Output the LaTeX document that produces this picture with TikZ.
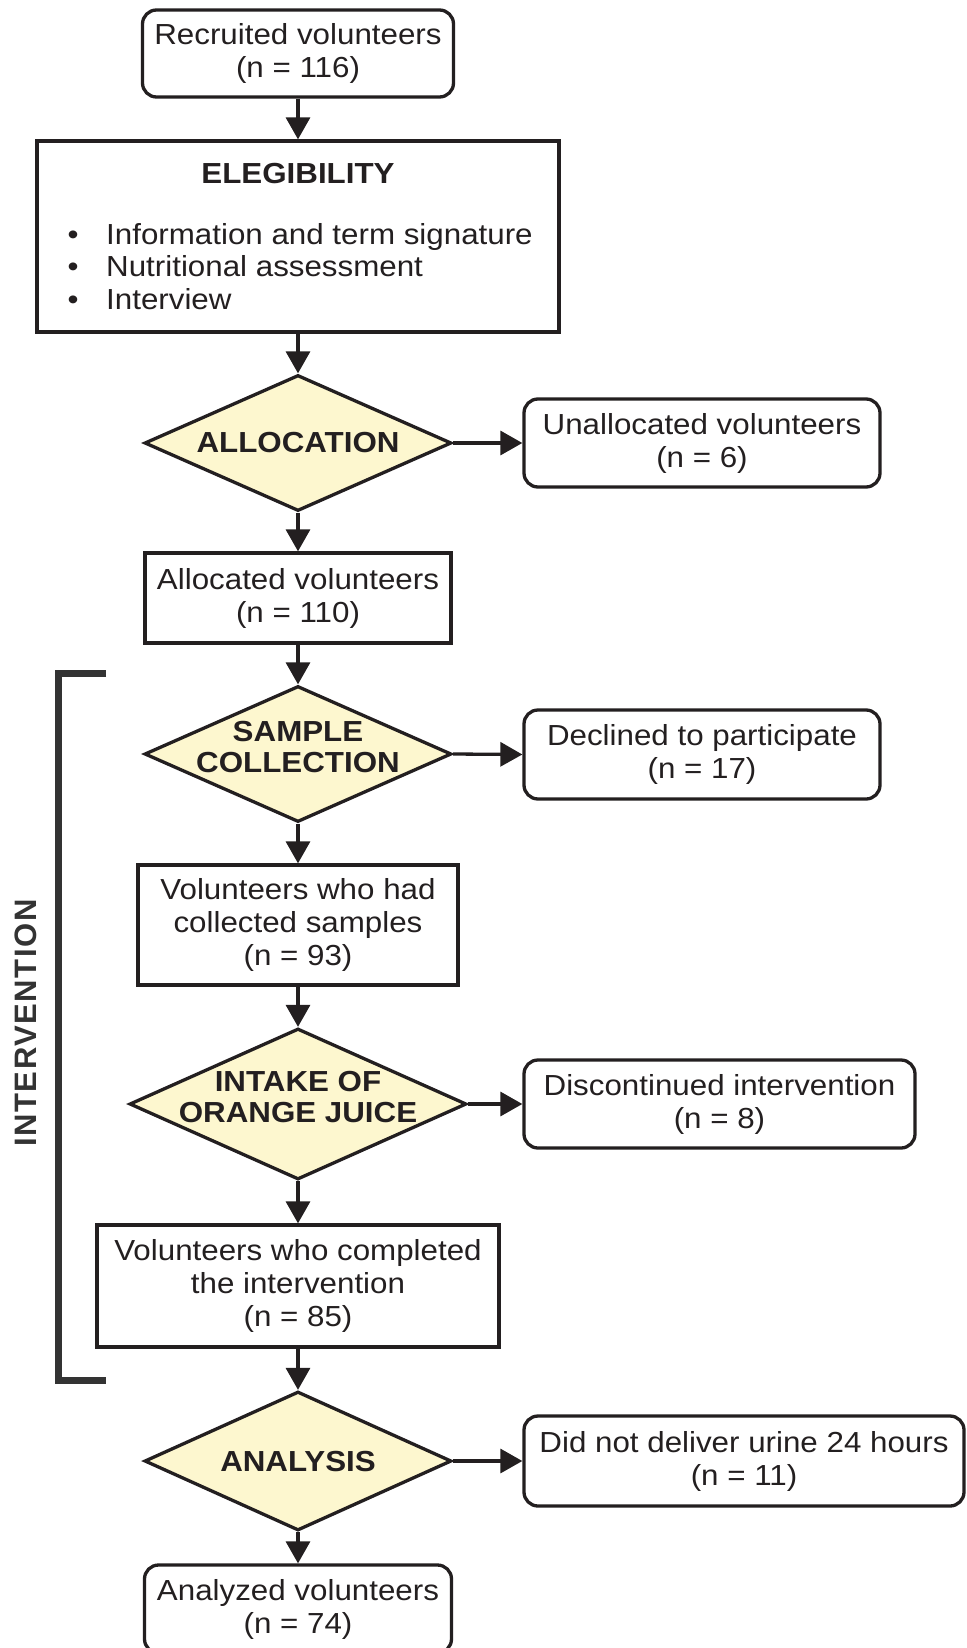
\documentclass[tikz,border=0pt]{standalone}
\usepackage{fontspec}
\setmainfont{Liberation Sans}[FakeStretch=1.08]
\newfontfamily\intfont{Liberation Sans}[LetterSpace=5.0]
\usetikzlibrary{shapes.geometric,arrows.meta}
\definecolor{linec}{HTML}{231F20}
\definecolor{textc}{HTML}{231F20}
\definecolor{diafill}{HTML}{FDF7CF}
\definecolor{brackc}{HTML}{333333}
\tikzset{
  base/.style={draw=linec, line width=3.3pt, align=center, inner sep=0pt,
    text=textc, font=\fontsize{29}{33}\selectfont},
  rbox/.style={base, rounded corners=14pt},
  sbox/.style={base},
  dia/.style={draw=linec, line width=3.3pt, diamond, fill=diafill, inner sep=0pt},
  lab/.style={font=\bfseries\fontsize{29}{31}\selectfont, align=center, text=textc, inner sep=0pt},
  arr/.style={draw=linec, line width=3.3pt, -{Triangle[length=22pt,width=24pt]}},
  bracket/.style={draw=brackc, line width=7pt},
  bul/.style={font=\fontsize{29}{33}\selectfont, text=textc, inner sep=0pt},
}
\begin{document}
\begin{tikzpicture}[x=1pt,y=-1pt]
\useasboundingbox (0,0) rectangle (966,1648);
\clip (0,0) rectangle (966,1648);
\fill[white] (0,0) rectangle (966,1648);

% main column
\node[rbox, minimum width=311pt, minimum height=87pt] (rec) at (298,53.5) {Recruited volunteers\\(n = 116)};
\node[sbox, minimum width=522pt, minimum height=191pt] (elig) at (298,236.5) {};
\node[lab, anchor=base] (eligt) at (298,183) {ELEGIBILITY};
\node[bul, anchor=base] (b1) at (73,244) {•};
\node[bul, anchor=base] (b2) at (73,276.5) {•};
\node[bul, anchor=base] (b3) at (73,309) {•};
\node[bul, anchor=base west] (t1) at (106,244) {Information and term signature};
\node[bul, anchor=base west] (t2) at (106,276.5) {Nutritional assessment};
\node[bul, anchor=base west] (t3) at (106,309) {Interview};

\node[dia, minimum width=307pt, minimum height=136pt, label={[lab]center:ALLOCATION}] (alloc) at (298,443) {};
\node[sbox, minimum width=306pt, minimum height=90pt] (allocated) at (298,598) {Allocated volunteers\\(n = 110)};
\node[dia, minimum width=307pt, minimum height=136pt, label={[lab, yshift=7pt]center:SAMPLE\\COLLECTION}] (sample) at (298,754) {};
\node[sbox, minimum width=320pt, minimum height=120pt] (had) at (298,925) {Volunteers who had\\collected samples\\(n = 93)};
\node[dia, minimum width=337pt, minimum height=151pt, label={[lab, yshift=7pt]center:INTAKE OF\\ORANGE JUICE}] (intake) at (298,1104) {};
\node[sbox, minimum width=402pt, minimum height=122pt] (completed) at (298,1286) {Volunteers who completed\\the intervention\\(n = 85)};
\node[dia, minimum width=307pt, minimum height=139pt, label={[lab]center:ANALYSIS}] (analysis) at (298,1461) {};
\node[rbox, minimum width=307pt, minimum height=88pt] (analyzed) at (298,1609) {Analyzed volunteers\\(n = 74)};

% side boxes
\node[rbox, minimum width=356pt, minimum height=88pt] (unalloc) at (702,443) {Unallocated volunteers\\(n = 6)};
\node[rbox, minimum width=356pt, minimum height=89pt] (declined) at (702,754.5) {Declined to participate\\(n = 17)};
\node[rbox, minimum width=391pt, minimum height=88pt] (discont) at (719.5,1104) {Discontinued intervention\\(n = 8)};
\node[rbox, minimum width=440pt, minimum height=90pt] (didnot) at (744,1461) {Did not deliver urine 24 hours\\(n = 11)};

% vertical arrows
\draw[arr] (rec.south) -- (elig.north);
\draw[arr] (elig.south) -- (alloc.north);
\draw[arr] (alloc.south) -- (allocated.north);
\draw[arr] (allocated.south) -- (sample.north);
\draw[arr] (sample.south) -- (had.north);
\draw[arr] (had.south) -- (intake.north);
\draw[arr] (intake.south) -- (completed.north);
\draw[arr] (completed.south) -- (analysis.north);
\draw[arr] (analysis.south) -- (analyzed.north);

% side arrows
\draw[arr] (alloc.east) -- (unalloc.west);
\draw[arr] (sample.east) -- (declined.west);
\draw[arr] (intake.east) -- (discont.west);
\draw[arr] (analysis.east) -- (didnot.west);

% bracket
\coordinate (bt1) at (106,673.5);
\coordinate (bt2) at (58,673.5);
\coordinate (bb2) at (58,1380);
\coordinate (bb1) at (106,1380);
\draw[bracket] (bt1) -- (bt2) -- (bb2) -- (bb1);
\node[rotate=90, inner sep=0pt, text=brackc, font=\intfont\bfseries\fontsize{31}{33}\selectfont] (interv) at (26,1023) {INTERVENTION};
\end{tikzpicture}
\end{document}
